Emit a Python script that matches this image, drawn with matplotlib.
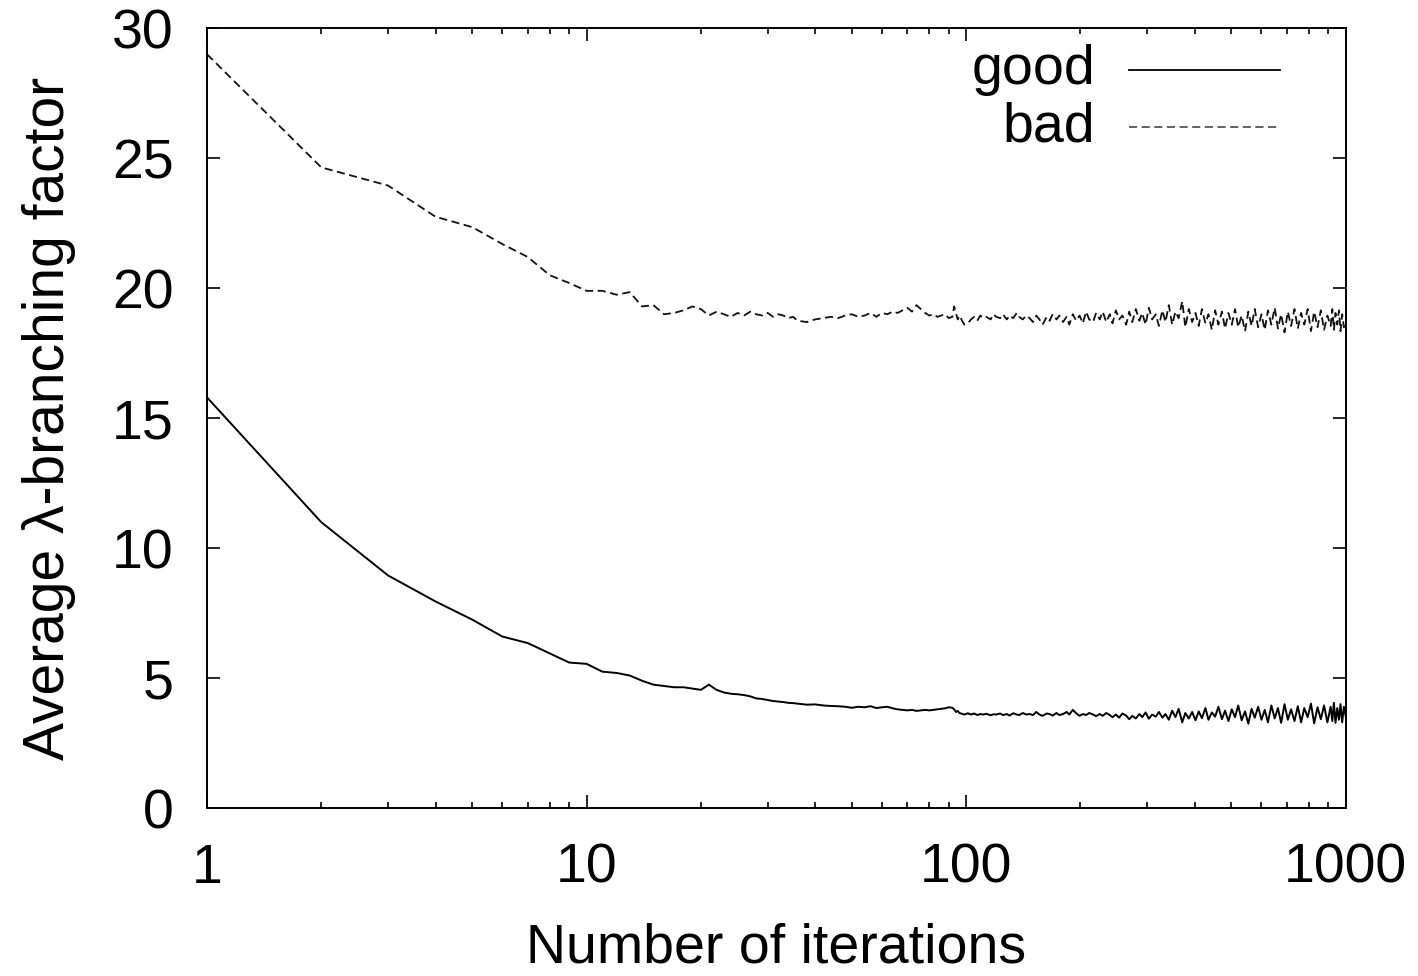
import matplotlib
matplotlib.use("Agg")
import matplotlib.pyplot as plt
from matplotlib.ticker import LogLocator, NullFormatter

plt.rcParams['font.family'] = ['Liberation Sans', 'DejaVu Sans']

iterations = [
    1, 2, 3, 4, 5, 6, 7, 8, 9, 10,
    11, 12, 13, 14, 15, 16, 17, 18, 19, 20,
    21, 22, 23, 24, 25, 26, 27, 28, 29, 30,
    31, 32, 33, 34, 35, 36, 38, 40, 42, 44,
    46, 48, 50, 52, 54, 56, 58, 60, 62, 64,
    66, 68, 70, 72, 74, 76, 78, 80, 82, 84,
    86, 88, 90, 92, 93, 94, 95, 96, 98, 99,
    101, 103, 105, 107, 109, 111, 113, 116, 118, 120,
    123, 125, 128, 130, 133, 136, 138, 141, 144, 147,
    150, 153, 156, 159, 163, 166, 169, 173, 176, 180,
    184, 187, 191, 195, 199, 203, 207, 211, 216, 220,
    225, 229, 234, 239, 243, 248, 253, 258, 264, 269,
    274, 280, 286, 291, 297, 303, 309, 316, 322, 329,
    335, 342, 349, 356, 363, 371, 378, 386, 394, 402,
    410, 418, 427, 435, 444, 453, 462, 472, 481, 491,
    501, 511, 521, 532, 543, 554, 565, 576, 588, 600,
    612, 624, 637, 650, 663, 676, 690, 704, 718, 733,
    748, 763, 778, 794, 810, 826, 843, 860, 877, 895,
    913, 922, 931, 940, 950, 960, 969, 979, 989, 1000,
]

good = [
    15.8, 11.0, 8.95, 7.95, 7.25, 6.6, 6.35, 5.95, 5.6, 5.55,
    5.25, 5.2, 5.1, 4.9, 4.75, 4.7, 4.65, 4.65, 4.6, 4.55,
    4.75, 4.55, 4.45, 4.4, 4.38, 4.35, 4.3, 4.22, 4.2, 4.16,
    4.12, 4.1, 4.08, 4.05, 4.04, 4.02, 3.98, 3.99, 3.95, 3.93,
    3.92, 3.9, 3.86, 3.9, 3.88, 3.92, 3.85, 3.88, 3.9, 3.84,
    3.8, 3.78, 3.76, 3.78, 3.74, 3.76, 3.78, 3.76, 3.78, 3.8,
    3.82, 3.84, 3.88, 3.86, 3.8, 3.7, 3.74, 3.66, 3.62, 3.6,
    3.65, 3.6, 3.64, 3.58, 3.62, 3.6, 3.63, 3.57, 3.61, 3.6,
    3.64, 3.58, 3.62, 3.56, 3.65, 3.6, 3.58, 3.66, 3.6, 3.62,
    3.58, 3.7, 3.6, 3.55, 3.64, 3.62, 3.56, 3.66, 3.58, 3.62,
    3.7, 3.6, 3.78, 3.65, 3.55, 3.62, 3.58, 3.66, 3.6, 3.54,
    3.62, 3.55, 3.66, 3.58, 3.5, 3.6, 3.48, 3.64, 3.56, 3.42,
    3.55, 3.45, 3.62, 3.5, 3.68, 3.44, 3.6, 3.52, 3.7, 3.48,
    3.62, 3.4, 3.75, 3.5, 3.82, 3.3, 3.66, 3.45, 3.7, 3.38,
    3.72, 3.46, 3.85, 3.4, 3.68, 3.52, 3.9, 3.42, 3.75, 3.35,
    3.8, 3.5, 3.95, 3.38, 3.72, 3.25, 3.82, 3.48, 3.9, 3.4,
    3.78, 3.3, 3.95, 3.45, 3.85, 3.28, 4.0, 3.4, 3.8, 3.35,
    3.92, 3.3, 3.85, 3.5, 4.02, 3.26, 3.88, 3.42, 3.95, 3.3,
    3.9, 3.35, 4.05, 3.28, 3.85, 3.4, 4.0, 3.3, 3.9, 3.55,
]

bad = [
    29.0, 24.65, 23.95, 22.75, 22.35, 21.7, 21.2, 20.5, 20.2, 19.9,
    19.9, 19.75, 19.85, 19.3, 19.35, 19.0, 19.05, 19.15, 19.3, 19.2,
    18.95, 19.1, 19.0, 18.9, 19.05, 18.95, 19.1, 19.0, 18.95, 19.05,
    18.9, 19.0, 18.95, 18.85, 18.9, 18.75, 18.7, 18.8, 18.85, 18.9,
    18.85, 18.95, 19.0, 18.9, 18.95, 19.05, 18.9, 19.05, 19.0, 19.1,
    19.05, 19.15, 19.25, 19.1, 19.35, 19.2, 19.05, 18.95, 19.0, 18.9,
    18.95, 19.0, 18.85, 18.9, 19.3, 19.05, 18.8, 18.95, 18.7, 18.6,
    18.65, 18.8, 18.9, 18.75, 18.95, 18.85, 18.9, 18.8, 19.0, 18.9,
    18.85, 19.0, 18.8, 18.95, 18.85, 19.05, 18.9, 18.8, 18.95, 18.85,
    18.7, 18.95, 18.8, 18.6, 18.9, 18.75, 19.0, 18.8, 18.95, 18.7,
    18.9, 18.6, 19.0, 18.75, 18.95, 18.65, 19.1, 18.8, 18.7, 19.05,
    18.8, 19.1, 18.7, 19.0, 18.65, 19.15, 18.8, 18.95, 18.6, 19.1,
    18.7, 19.2, 18.75, 19.05, 18.6, 19.25, 18.8, 19.0, 18.55, 19.15,
    18.7, 19.35, 18.6, 19.1, 18.85, 19.5, 18.5, 19.2, 18.7, 19.05,
    18.55, 19.2, 18.65, 19.0, 18.4, 19.15, 18.6, 19.1, 18.45, 19.05,
    18.6, 19.2, 18.5, 18.95, 18.35, 19.1, 18.55, 19.2, 18.5, 19.0,
    18.4, 19.15, 18.6, 19.25, 18.45, 19.0, 18.3, 19.1, 18.55, 19.2,
    18.45, 19.05, 18.6, 19.2, 18.35, 19.1, 18.5, 19.15, 18.4, 18.95,
    18.55, 19.2, 18.4, 19.05, 18.6, 19.15, 18.35, 19.0, 18.5, 18.6,
]

x_ticks = [1, 10, 100, 1000]
x_tick_labels = ['1', '10', '100', '1000']
y_ticks = [0, 5, 10, 15, 20, 25, 30]
series_labels = ['good', 'bad']

FS = 40
BAD_DASH = (0, (4.5, 2.5))

fig = plt.figure(figsize=(14.18, 9.76), dpi=100)
ax = fig.add_axes([0.146, 0.172, 0.803, 0.799])

ax.plot(iterations, good, color='black', lw=1.4)
ax.plot(iterations, bad, color='#111111', lw=1.3, linestyle=BAD_DASH)

ax.set_xscale('log')
ax.set_xlim(1, 1000)
ax.set_ylim(0, 30)
ax.set_xticks(x_ticks)
ax.set_xticklabels(x_tick_labels)
ax.xaxis.set_minor_locator(LogLocator(base=10, subs=range(2, 10)))
ax.xaxis.set_minor_formatter(NullFormatter())
ax.set_yticks(y_ticks)

ax.tick_params(which='both', direction='in', top=True, right=True,
               labelsize=FS, width=1.2)
ax.tick_params(which='major', length=9.5)
ax.tick_params(which='minor', length=4.5)
ax.tick_params(axis='x', pad=25)
ax.tick_params(axis='y', pad=24)
for s in ax.spines.values():
    s.set_linewidth(1.4)

ax.set_xlabel('Number of iterations', fontsize=FS, labelpad=20)
ax.set_ylabel('Average λ-branching factor', fontsize=41, labelpad=26)

# legend drawn gnuplot-style: label right-aligned, sample line to its right
for i, (lab, ls, col) in enumerate(zip(series_labels, ['-', BAD_DASH],
                                       ['black', '#555555'])):
    yy = 0.946 - i * 0.073
    ax.plot([0.810, 0.942], [yy, yy], transform=ax.transAxes,
            color=col, lw=1.3, linestyle=ls)
    ax.text(0.780, yy, lab, transform=ax.transAxes, ha='right',
            va='center', fontsize=FS)

fig.savefig('out.png', dpi=100)
